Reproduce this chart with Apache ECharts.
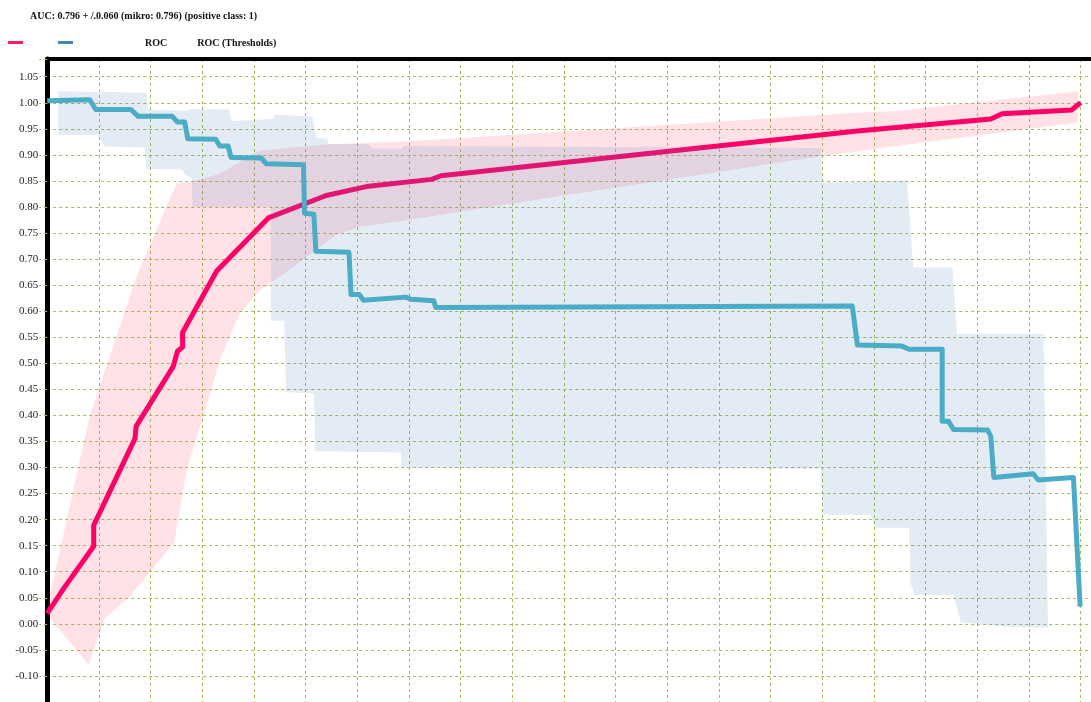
<!DOCTYPE html>
<html>
<head>
<meta charset="utf-8">
<script src="https://cdn.jsdelivr.net/npm/echarts@6/dist/echarts.min.js"></script>
<style>
  html, body { margin: 0; padding: 0; background: #fff; }
  #chart { width: 1091px; height: 702px; }
</style>
</head>
<body>
<div id="chart"></div>
<script>
const titleText = "AUC: 0.796 + /.0.060 (mikro: 0.796) (positive class: 1)";
const seriesNames = ["ROC", "ROC (Thresholds)"];
const yTickLabels = ["-0.10", "-0.05", "0.00", "0.05", "0.10", "0.15", "0.20", "0.25", "0.30",
  "0.35", "0.40", "0.45", "0.50", "0.55", "0.60", "0.65", "0.70", "0.75", "0.80", "0.85",
  "0.90", "0.95", "1.00", "1.05"];

// mean ROC curve [fpr, tpr]
const rocLine = [
  [0, 0.02], [0.016, 0.068], [0.045, 0.149], [0.045, 0.189], [0.085, 0.356], [0.086, 0.379],
  [0.122, 0.494], [0.126, 0.523], [0.131, 0.531], [0.131, 0.559], [0.164, 0.677], [0.214, 0.779],
  [0.27, 0.822], [0.311, 0.840], [0.372, 0.853], [0.381, 0.860], [0.784, 0.946], [0.913, 0.969],
  [0.924, 0.979], [0.991, 0.986], [1.0, 1.0]
];
// +/- std band around ROC
const rocUpper = [
  [0, 0.03], [0.041, 0.398], [0.086, 0.664], [0.125, 0.845], [0.1395, 0.848], [0.167, 0.864],
  [0.205, 0.908], [0.27, 0.92], [0.36, 0.927], [0.784, 0.981], [0.8225, 0.984], [0.998, 1.022]
];
const rocLower = [
  [0, 0.017], [0.04, -0.078], [0.056, 0.011], [0.08, 0.052], [0.123, 0.157], [0.135, 0.296],
  [0.151, 0.398], [0.168, 0.512], [0.186, 0.594], [0.205, 0.639], [0.241, 0.689], [0.279, 0.746],
  [0.302, 0.762], [0.34, 0.772], [0.437, 0.803], [0.75, 0.898], [0.8225, 0.917], [0.997, 0.962]
];

// threshold curve
const thrLine = [
  [0, 1.004], [0.041, 1.006], [0.047, 0.987], [0.081, 0.987], [0.088, 0.974], [0.121, 0.974],
  [0.126, 0.963], [0.133, 0.963], [0.136, 0.931], [0.163, 0.930], [0.167, 0.917], [0.175, 0.917],
  [0.178, 0.895], [0.207, 0.894], [0.212, 0.883], [0.248, 0.881], [0.249, 0.788], [0.258, 0.786],
  [0.26, 0.715], [0.292, 0.713], [0.294, 0.632], [0.302, 0.632], [0.306, 0.621], [0.347, 0.627],
  [0.352, 0.623], [0.374, 0.620], [0.376, 0.607], [0.779, 0.610], [0.784, 0.535], [0.827, 0.533],
  [0.834, 0.527], [0.866, 0.527], [0.866, 0.389], [0.872, 0.389], [0.877, 0.373], [0.910, 0.372],
  [0.913, 0.360], [0.916, 0.281], [0.954, 0.288], [0.959, 0.276], [0.993, 0.281], [0.9995, 0.033]
];
const thrUpper = [
  [0.0107, 1.022], [0.096, 1.019], [0.0975, 0.987], [0.133, 0.984], [0.141, 0.988], [0.176, 0.987],
  [0.178, 0.965], [0.218, 0.969], [0.221, 0.977], [0.2567, 0.973], [0.26, 0.933], [0.271, 0.931],
  [0.272, 0.921], [0.31, 0.921], [0.315, 0.912], [0.343, 0.912], [0.345, 0.917], [0.7486, 0.913],
  [0.750, 0.847], [0.832, 0.851], [0.838, 0.684], [0.8759, 0.684], [0.8804, 0.5563], [0.9641, 0.5563]
];
const thrLower = [
  [0.0107, 0.938], [0.049, 0.938], [0.0557, 0.916], [0.0944, 0.914], [0.096, 0.873], [0.131, 0.872],
  [0.133, 0.862], [0.14, 0.855], [0.1405, 0.8], [0.2165, 0.8], [0.2166, 0.5815], [0.2294, 0.5815],
  [0.231, 0.445], [0.2583, 0.442], [0.2593, 0.331], [0.342, 0.329], [0.343, 0.2995], [0.7486, 0.2977],
  [0.7502, 0.2093], [0.7968, 0.2093], [0.8017, 0.1844], [0.834, 0.1844], [0.8354, 0.0783],
  [0.8393, 0.0555], [0.8771, 0.0555], [0.884, 0.003], [0.927, -0.0055], [0.9684, -0.007]
];

const font = "Liberation Serif";
const gridColor = "#a2bd58";

function band(upper, lower, fill, z) {
  const outline = lower.concat(upper.slice().reverse());
  return {
    type: "custom",
    silent: true,
    z: z,
    data: [[0, 0]],
    renderItem: (params, api) => ({
      type: "polygon",
      shape: { points: outline.map(p => api.coord(p)) },
      style: { fill: fill }
    })
  };
}

const chart = echarts.init(document.getElementById("chart"));
chart.setOption({
  animation: false,
  title: {
    text: titleText, left: 25, top: 6,
    textStyle: { fontFamily: font, fontSize: 10, fontWeight: "bold", color: "#111" }
  },
  legend: [
    {
      left: 3, top: 36, icon: "rect", itemWidth: 15, itemHeight: 3, itemGap: 35,
      selectedMode: false, formatter: () => "",
      data: [
        { name: seriesNames[0], itemStyle: { color: "#ff1a6e" } },
        { name: seriesNames[1], itemStyle: { color: "#3b8fa5" } }
      ]
    },
    {
      left: 135, top: 33, icon: "rect", itemWidth: 0, itemHeight: 0, itemGap: 25,
      selectedMode: false,
      textStyle: { fontFamily: font, fontSize: 10, fontWeight: "bold", color: "#111" },
      data: seriesNames
    }
  ],
  grid: { left: 47.2, top: 59, width: 1047.2, height: 649.1, containLabel: false },
  xAxis: {
    type: "value", min: 0, max: 1.01, interval: 0.05, position: "top",
    axisLine: { show: true, onZero: false, lineStyle: { color: "#000", width: 4 } },
    axisTick: { show: false },
    axisLabel: { show: false },
    splitLine: { show: true, lineStyle: { color: gridColor, type: [3, 3], width: 1 } }
  },
  yAxis: {
    type: "value", min: -0.15, max: 1.084, interval: 0.05,
    axisLine: { show: true, onZero: false, lineStyle: { color: "#000", width: 5 } },
    axisTick: { show: true, length: 8, lineStyle: { color: gridColor, type: [3, 3] } },
    axisLabel: {
      margin: 9, fontFamily: font, fontSize: 11, color: "#222",
      formatter: v => { const s = v.toFixed(2); return yTickLabels.includes(s) ? s : ""; }
    },
    splitLine: { show: true, lineStyle: { color: gridColor, type: [3, 3], width: 1 } }
  },
  series: [
    band(rocUpper, rocLower, "rgba(255,105,130,0.2)", 1),
    {
      name: seriesNames[0], type: "line", data: rocLine, z: 2,
      symbol: "none", color: "#ff0066",
      lineStyle: { width: 5, color: "#ff0066", join: "round" }
    },
    band(thrUpper, thrLower, "rgba(79,129,189,0.16)", 3),
    {
      name: seriesNames[1], type: "line", data: thrLine, z: 4,
      symbol: "none", color: "#4bacc6",
      lineStyle: { width: 5, color: "#4bacc6", join: "round" }
    }
  ]
});
</script>
</body>
</html>
